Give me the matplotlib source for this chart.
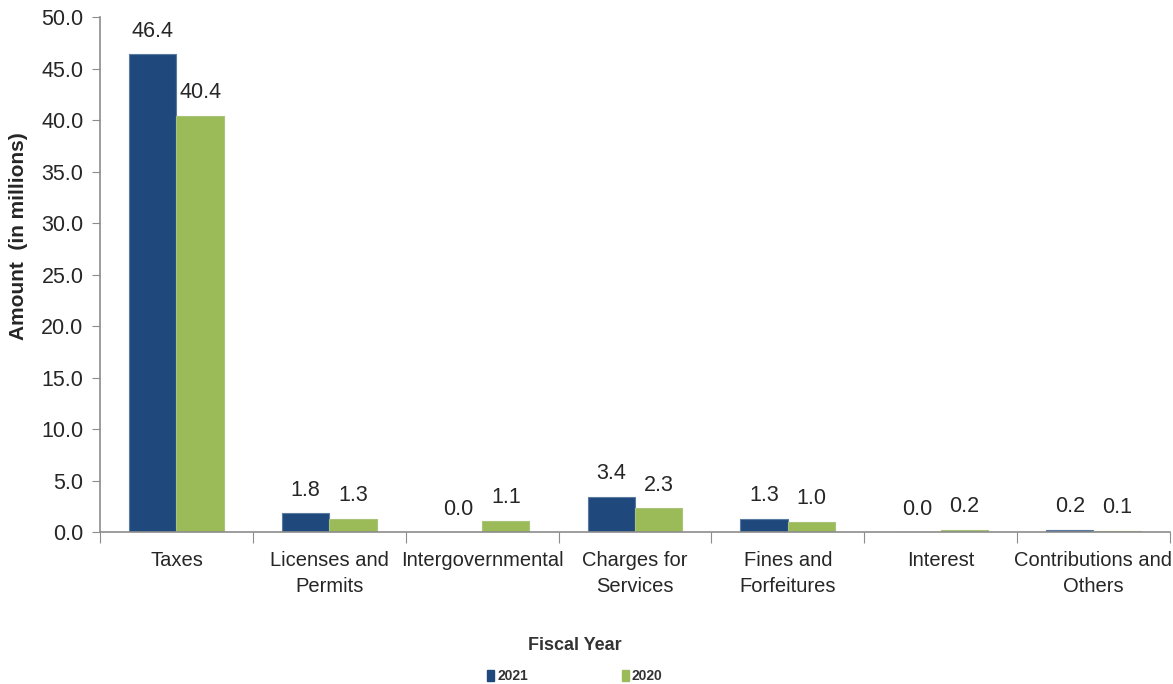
import matplotlib
matplotlib.use("Agg")
import matplotlib.pyplot as plt
import numpy as np
from matplotlib.patches import Rectangle

categories = ["Taxes", "Licenses and\nPermits", "Intergovernmental", "Charges for\nServices",
              "Fines and\nForfeitures", "Interest", "Contributions and\nOthers"]
values_2021 = [46.4, 1.8, 0.0, 3.4, 1.3, 0.0, 0.2]
values_2020 = [40.4, 1.3, 1.1, 2.3, 1.0, 0.2, 0.1]
series_names = ["2021", "2020"]
y_ticks = [0, 5, 10, 15, 20, 25, 30, 35, 40, 45, 50]

NAVY = "#1F497D"
GREEN = "#9BBB59"
AXIS = "#8C8C8C"
TEXT = "#262626"

plt.rcParams["font.family"] = ["Liberation Sans", "DejaVu Sans"]

fig = plt.figure(figsize=(11.73, 6.84), dpi=100)
ax = fig.add_axes([0.0853, 0.2222, 0.912, 0.7529])

n = len(categories)
x = np.arange(n)
w = 0.31
b1 = ax.bar(x - w / 2, values_2021, w, color=NAVY, edgecolor="#5A7AA0", linewidth=0.8, label=series_names[0])
b2 = ax.bar(x + w / 2, values_2020, w, color=GREEN, edgecolor="#A9C47A", linewidth=0.8, label=series_names[1])

for bars, vals in ((b1, values_2021), (b2, values_2020)):
    for rect, v in zip(bars, vals):
        ax.annotate(f"{v:.1f}", (rect.get_x() + rect.get_width() / 2, v),
                    xytext=(0, 9), textcoords="offset points", ha="center", va="bottom",
                    fontsize=15.5, color=TEXT)

ax.set_xlim(-0.5, n - 0.5)
ax.set_ylim(0, 50)
ax.set_yticks(y_ticks)
ax.set_yticklabels([f"{t:.1f}" for t in y_ticks], fontsize=15.5, color=TEXT)
ax.set_xticks(np.arange(-0.5, n, 1.0))
ax.set_xticklabels([])
ax.set_xticks(x, minor=True)
ax.set_xticklabels(categories, minor=True, fontsize=14.5, color=TEXT, linespacing=1.45)
ax.tick_params(axis="x", which="minor", length=0, pad=14)
ax.tick_params(axis="x", which="major", length=8, color=AXIS, direction="out")
ax.tick_params(axis="y", length=6, color=AXIS, direction="out", pad=6)

for s in ("top", "right"):
    ax.spines[s].set_visible(False)
for s in ("left", "bottom"):
    ax.spines[s].set_color(AXIS)
    ax.spines[s].set_linewidth(1.2)

fig.text(19 / 1173, 1 - 236 / 684, "Amount  (in millions)", rotation=90, ha="center", va="center",
         fontsize=15, fontweight="bold", color=TEXT)

fig.text(0.49, 1 - 645 / 684, "Fiscal Year", ha="center", va="center", fontsize=13,
         fontweight="bold", color="#333333")

# legend entries
legend_y = 1 - 676 / 684
for name, color, xl in ((series_names[0], NAVY, 487 / 1173), (series_names[1], GREEN, 622 / 1173)):
    fig.patches.append(Rectangle((xl, legend_y - 0.0075), 7 / 1173, 7 / 684 * 1.6,
                                 transform=fig.transFigure, color=color))
    fig.text(xl + 10 / 1173, legend_y, name, ha="left", va="center", fontsize=10,
             fontweight="bold", color="#333333")

fig.savefig("out.png", dpi=100)
